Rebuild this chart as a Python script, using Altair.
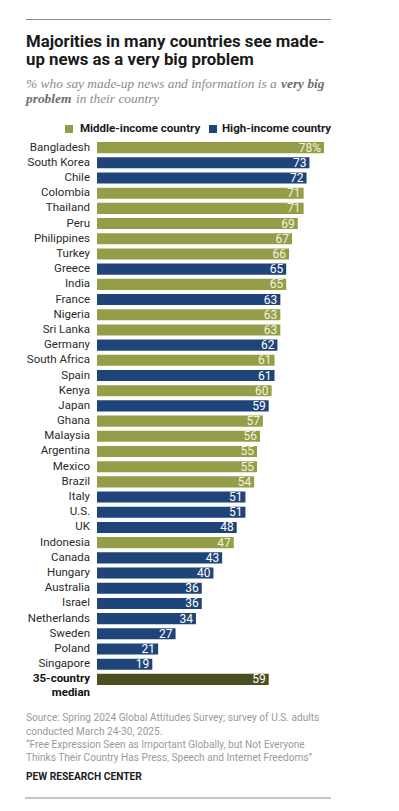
import altair as alt
import pandas as pd

countries = ["Bangladesh", "South Korea", "Chile", "Colombia", "Thailand", "Peru",
             "Philippines", "Turkey", "Greece", "India", "France", "Nigeria", "Sri Lanka",
             "Germany", "South Africa", "Spain", "Kenya", "Japan", "Ghana", "Malaysia",
             "Argentina", "Mexico", "Brazil", "Italy", "U.S.", "UK", "Indonesia", "Canada",
             "Hungary", "Australia", "Israel", "Netherlands", "Sweden", "Poland", "Singapore",
             "35-country median"]
values = [78, 73, 72, 71, 71, 69, 67, 66, 65, 65, 63, 63, 63, 62, 61, 61, 60, 59, 57, 56,
          55, 55, 54, 51, 51, 48, 47, 43, 40, 36, 36, 34, 27, 21, 19, 59]
groups = ["Middle", "High", "High", "Middle", "Middle", "Middle", "Middle", "Middle", "High",
          "Middle", "High", "Middle", "Middle", "High", "Middle", "High", "Middle", "High",
          "Middle", "Middle", "Middle", "Middle", "Middle", "High", "High", "High", "Middle",
          "High", "High", "High", "High", "High", "High", "High", "High", "Median"]
value_labels = [f"{v}%" if i == 0 else str(v) for i, v in enumerate(values)]

df = pd.DataFrame({"country": countries, "value": values, "group": groups,
                   "label": value_labels})

OLIVE = "#949e48"
NAVY = "#1f4479"
MEDIAN = "#4b4f1f"
SANS = "Roboto"

color_scale = alt.Scale(domain=["Middle", "High", "Median"], range=[OLIVE, NAVY, MEDIAN])
xs = alt.Scale(domain=[0, 78])
ys = alt.Scale(domain=countries, paddingInner=0.27, paddingOuter=0.135)

base = alt.Chart(df)

bars = base.mark_bar().encode(
    x=alt.X("value:Q", scale=xs, axis=None),
    y=alt.Y("country:N", scale=ys, axis=None, sort=None),
    color=alt.Color("group:N", scale=color_scale, legend=None),
)

vlabels = base.mark_text(align="right", baseline="middle", dx=-3, font=SANS,
                         fontSize=12).encode(
    x=alt.X("value:Q", scale=xs),
    y=alt.Y("country:N", scale=ys, sort=None),
    text="label:N",
    color=alt.condition(alt.datum.group == "Middle", alt.value("#f3f1de"), alt.value("#ffffff")),
)

ylabels = base.transform_filter(alt.datum.group != "Median").mark_text(
    align="right", baseline="middle", font=SANS, fontSize=11.5, color="#2a2a2a").encode(
    x=alt.value(-7),
    y=alt.Y("country:N", scale=ys, sort=None),
    text="country:N",
)

med1 = base.transform_filter(alt.datum.group == "Median").mark_text(
    align="right", baseline="middle", font=SANS, fontSize=11.5, fontWeight="bold",
    color="#111111").encode(
    x=alt.value(-7), y=alt.Y("country:N", scale=ys, sort=None), text=alt.value("35-country"))
med2 = base.transform_filter(alt.datum.group == "Median").mark_text(
    align="right", baseline="middle", font=SANS, fontSize=11.5, fontWeight="bold",
    color="#111111", dy=14).encode(
    x=alt.value(-7), y=alt.Y("country:N", scale=ys, sort=None), text=alt.value("median"))


def txt(s, x, y, size, color, weight="normal", style="normal", font=SANS, align="left",
        baseline="alphabetic"):
    return alt.Chart(pd.DataFrame({"t": [s]})).mark_text(
        align=align, baseline=baseline, font=font, fontSize=size, fontWeight=weight,
        fontStyle=style, color=color).encode(x=alt.value(x), y=alt.value(y), text="t:N")


def rule(x1, x2, y):
    return alt.Chart(pd.DataFrame({"a": [0]})).mark_rule(color="#8c8c8c", strokeWidth=1).encode(
        x=alt.value(x1), x2=alt.value(x2), y=alt.value(y))


SERIF = "Liberation Serif"
annotations = [
    rule(-71, 234, -120.5),
    txt("Majorities in many countries see made-", -71, -93.5, 16.8, "#1a1a1a", weight="bold"),
    txt("up news as a very big problem", -71, -75, 16.8, "#1a1a1a", weight="bold"),
    txt("% who say made-up news and information is a", -71, -52.5, 13.4, "#8a8a8a",
        style="italic", font=SERIF),
    txt("very big", 184, -52.5, 13.4, "#6e6e6e", weight="bold", style="italic", font=SERIF),
    txt("problem", -71, -37.3, 13.4, "#6e6e6e", weight="bold", style="italic", font=SERIF),
    txt("in their country", -21, -37.3, 13.4, "#8a8a8a", style="italic", font=SERIF),
    txt("Middle-income country", -17, -11, 11.5, "#1a1a1a", weight="bold", baseline="middle"),
    txt("High-income country", 125, -11, 11.5, "#1a1a1a", weight="bold", baseline="middle"),
    alt.Chart(pd.DataFrame({"a": [0]})).mark_square(size=64, color=OLIVE, opacity=1).encode(
        x=alt.value(-28), y=alt.value(-11)),
    alt.Chart(pd.DataFrame({"a": [0]})).mark_square(size=64, color=NAVY, opacity=1).encode(
        x=alt.value(116), y=alt.value(-11)),
    txt("Source: Spring 2024 Global Attitudes Survey; survey of U.S. adults", -71, 578.3, 10.1,
        "#9a9a9a", baseline="middle"),
    txt("conducted March 24-30, 2025.", -71, 591.7, 10.1, "#9a9a9a", baseline="middle"),
    txt("\u201cFree Expression Seen as Important Globally, but Not Everyone", -71, 605.3, 10.1,
        "#9a9a9a", baseline="middle"),
    txt("Thinks Their Country Has Press, Speech and Internet Freedoms\u201d", -71, 618, 10.1,
        "#9a9a9a", baseline="middle"),
    txt("PEW RESEARCH CENTER", -71, 637, 10.2, "#222222", weight="bold", baseline="middle"),
    rule(-72, 234, 658),
]

chart = alt.layer(bars, vlabels, ylabels, med1, med2, *annotations).properties(
    width=227, height=547,
    autosize=alt.AutoSizeParams(type="none"),
    padding={"left": 89, "top": 132, "right": 67, "bottom": 116},
    background="white",
).configure_view(stroke=None)

chart.save("out.html", embed_options={"renderer": "svg", "actions": False})
